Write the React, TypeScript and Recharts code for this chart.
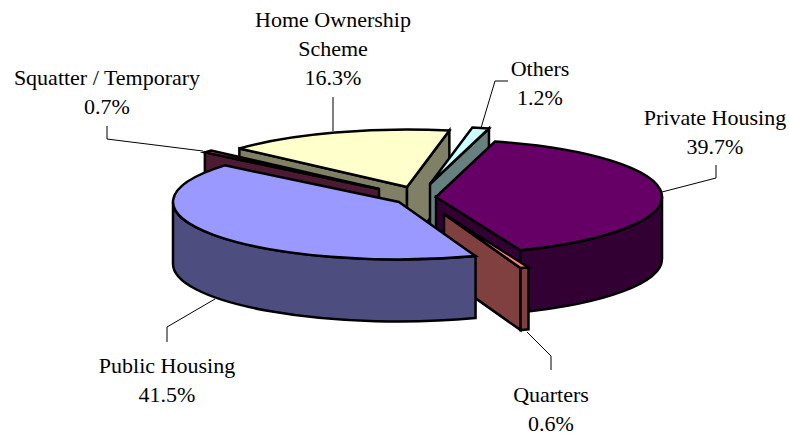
import React from 'react'
import { PieChart, Pie } from 'recharts'

// clockwise from the squatter slice, values in percent
const categories = ['Squatter / Temporary', 'Home Ownership Scheme', 'Others', 'Private Housing', 'Quarters', 'Public Housing']
const shares = [0.7, 16.3, 1.2, 39.7, 0.6, 41.5]
const labelLines = [['Squatter / Temporary'], ['Home Ownership', 'Scheme'], ['Others'], ['Private Housing'], ['Quarters'], ['Public Housing']]

const data = categories.map((name, i) => ({ name, value: shares[i], lines: labelLines[i] }))

const W = 789
const H = 435
const CX = 417
const CY = 197
const RX = 226
const SQUASH = 0.2544
const DEPTH = 62
const START = 140.4

// top colour, wall colour, exploded offset from the pie centre
const look: Record<string, { top: string; wall: string; dx: number; dy: number }> = {
  'Squatter / Temporary': { top: '#993366', wall: '#4d1a33', dx: -38, dy: -8 },
  'Home Ownership Scheme': { top: '#ffffcc', wall: '#808066', dx: -10, dy: -10 },
  Others: { top: '#ccffff', wall: '#668080', dx: 13, dy: -13 },
  'Private Housing': { top: '#660066', wall: '#330033', dx: 19, dy: 0 },
  Quarters: { top: '#ff8080', wall: '#804040', dx: 27, dy: 17 },
  'Public Housing': { top: '#9999ff', wall: '#4d4d80', dx: -18, dy: 5 },
}

// text centre, first baseline, leader line
const labelPos: Record<string, { x: number; y: number; line: string }> = {
  'Squatter / Temporary': { x: 107, y: 85, line: '203,151 107,139 107,126' },
  'Home Ownership Scheme': { x: 333, y: 27, line: '333,131 333,97' },
  Others: { x: 540, y: 76, line: '481,128 495,81 508,81' },
  'Private Housing': { x: 715, y: 125, line: '662,192 716,178 716,165' },
  Quarters: { x: 551, y: 402, line: '527,332 551,356 551,370' },
  'Public Housing': { x: 167, y: 373, line: '215,299 167,327 167,342' },
}

const rad = (a: number) => (a * Math.PI) / 180

function Slice3D(props: any) {
  const { startAngle, endAngle, name } = props
  const s = look[name]
  const ax = CX + s.dx
  const ay = CY + s.dy
  const ry = RX * SQUASH
  const px = (a: number) => ax + RX * Math.cos(rad(a))
  const py = (a: number) => ay - ry * Math.sin(rad(a))
  const arc = `A${RX} ${ry} 0 0 1`

  // radial faces that turn toward the viewer
  const faces = [
    { a: startAngle, normal: startAngle + 90 },
    { a: endAngle, normal: endAngle - 90 },
  ].filter((f) => Math.sin(rad(f.normal)) < 0)

  // outer wall: only the front half of the rim shows
  const wallFrom = Math.min(startAngle, 0)
  const wallTo = Math.max(endAngle, -180)

  const stroke = { stroke: '#000', strokeWidth: 2.5, strokeLinejoin: 'miter' as const }
  return (
    <g>
      {faces.map((f) => (
        <path
          key={f.a}
          d={`M${ax} ${ay}L${px(f.a)} ${py(f.a)}v${DEPTH}L${ax} ${ay + DEPTH}Z`}
          fill={s.wall}
          {...stroke}
        />
      ))}
      {wallFrom > wallTo && (
        <path
          d={`M${px(wallFrom)} ${py(wallFrom)}${arc} ${px(wallTo)} ${py(wallTo)}v${DEPTH}A${RX} ${ry} 0 0 0 ${px(wallFrom)} ${py(wallFrom) + DEPTH}Z`}
          fill={s.wall}
          {...stroke}
        />
      )}
      <path
        d={`M${ax} ${ay}L${px(startAngle)} ${py(startAngle)}${arc} ${px(endAngle)} ${py(endAngle)}Z`}
        fill={s.top}
        {...stroke}
      />
    </g>
  )
}

function SliceLabel(props: any) {
  const { name, payload, value } = props
  const key = name ?? payload?.name
  const pos = labelPos[key]
  const lines: string[] = [...(payload?.lines ?? props.lines), `${value}%`]
  return (
    <g>
      <polyline points={pos.line} fill="none" stroke="#000" strokeWidth={1} />
      <text x={pos.x} y={pos.y} textAnchor="middle" fontFamily="'Liberation Serif'" fontSize={22} fill="#000">
        {lines.map((l, i) => (
          <tspan key={l} x={pos.x} dy={i === 0 ? 0 : 29}>
            {l}
          </tspan>
        ))}
      </text>
    </g>
  )
}

const homeShape = (p: any) => (p.name === categories[1] ? <Slice3D {...p} /> : <g />)
const restShape = (p: any) => (p.name === categories[1] ? <g /> : <Slice3D {...p} />)

export default function App() {
  const pieProps = {
    data,
    dataKey: 'value',
    nameKey: 'name',
    cx: CX,
    cy: CY,
    outerRadius: RX,
    startAngle: START,
    endAngle: START - 360,
    stroke: 'none',
    isAnimationActive: false,
  }
  return (
    <div style={{ position: 'absolute', left: 0, top: 0, width: W, height: H, background: '#fff' }}>
      <PieChart width={W} height={H} margin={{ top: 0, right: 0, bottom: 0, left: 0 }}>
        {/* home slice goes first so the squatter slice can sit in front of it */}
        <Pie {...pieProps} shape={homeShape} inactiveShape={homeShape} label={false} labelLine={false} />
        <Pie {...pieProps} shape={restShape} inactiveShape={restShape} label={SliceLabel} labelLine={false} />
      </PieChart>
    </div>
  )
}
